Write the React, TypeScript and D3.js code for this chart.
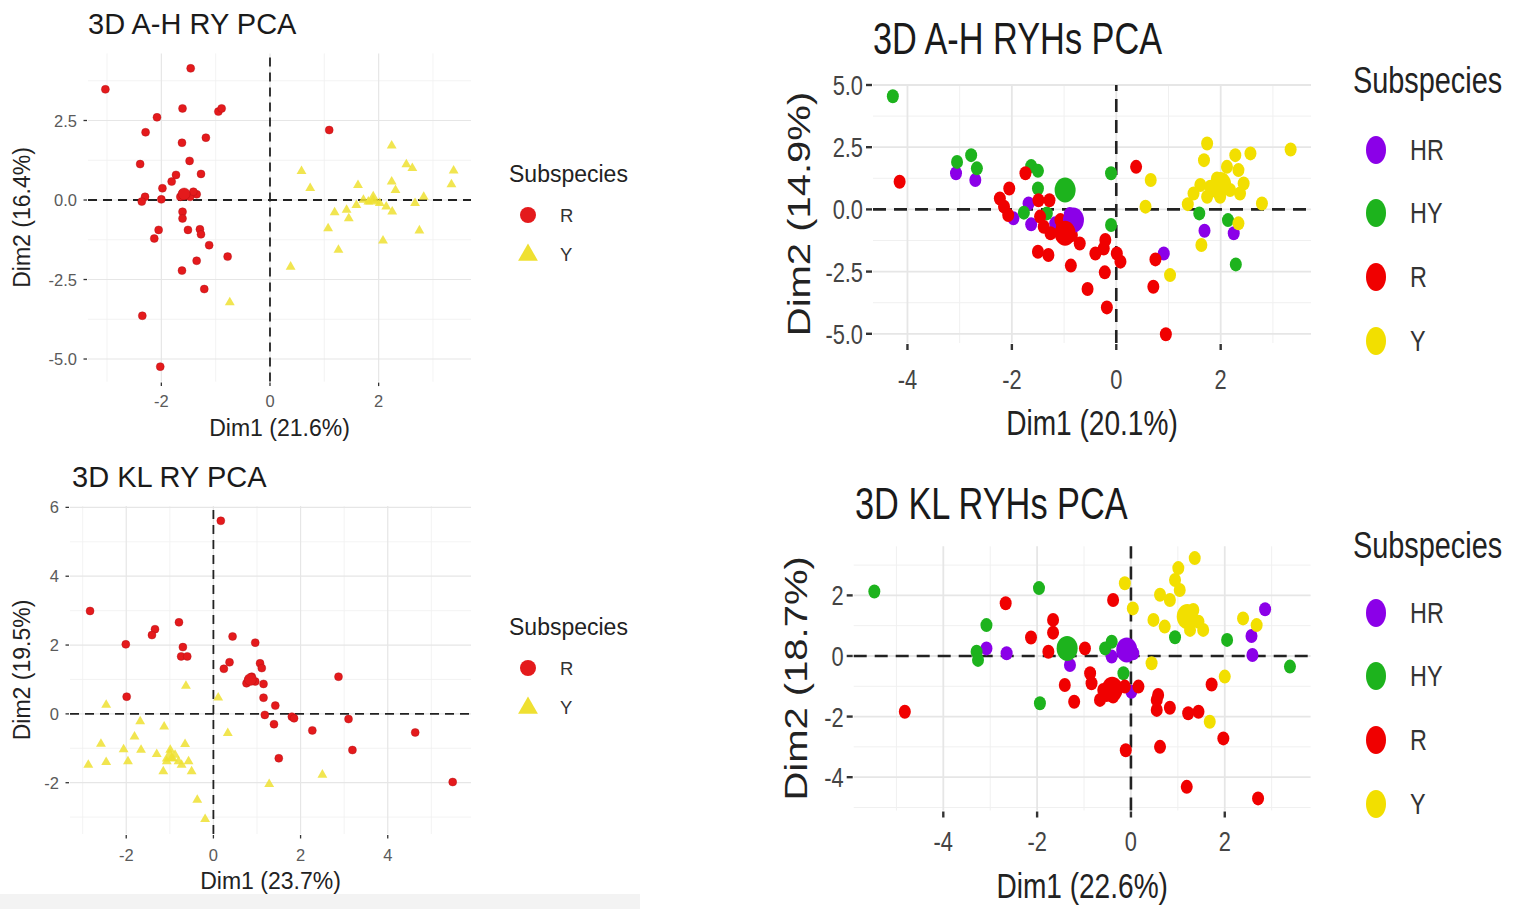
import React from 'react';
import * as d3 from 'd3';

type Pt = [number, number];

// ---- 3D A-H RY PCA ----
const AH_RY_R: Pt[] = [
  [-3.03, 3.48], [-1.46, 4.14], [-2.08, 2.6], [-2.29, 2.13], [-1.61, 2.88], [-0.95, 2.78],
  [-0.89, 2.88], [-1.18, 1.96], [-1.62, 1.8], [-2.39, 1.13], [-1.48, 1.23], [-1.27, 0.82],
  [-1.73, 0.79], [-1.81, 0.58], [-1.98, 0.37], [-2.3, 0.1], [-2.36, -0.05], [-2.0, 0.02],
  [-1.61, 0.21], [-1.53, 0.16], [-1.35, 0.18], [-1.65, 0.1], [-1.47, 0.1], [-1.61, -0.37],
  [-1.61, -0.58], [-2.05, -0.94], [-2.13, -1.21], [-1.51, -0.94], [-1.29, -0.92], [-1.27, -1.08],
  [-1.12, -1.42], [-0.78, -1.78], [-1.35, -1.91], [-1.62, -2.22], [-1.21, -2.8], [-2.35, -3.64],
  [-2.02, -5.24], [1.09, 2.2], [-1.41, 0.26],
];
const AH_RY_Y: Pt[] = [
  [0.58, 0.91], [0.74, 0.37], [2.24, 1.71], [2.51, 1.12], [2.62, 1.0], [3.38, 0.92],
  [3.34, 0.49], [1.62, 0.47], [2.24, 0.58], [2.31, 0.31], [1.19, -0.39], [1.45, -0.58],
  [1.59, -0.16], [1.81, -0.05], [1.9, 0.0], [2.02, -0.1], [2.25, -0.37], [2.67, -0.1],
  [2.83, 0.1], [1.07, -0.89], [2.75, -0.96], [2.08, -1.28], [1.26, -1.57], [0.38, -2.1],
  [-0.74, -3.22], [1.72, 0.0], [2.14, -0.21], [1.41, -0.31],
];
const AH_RY_MEAN_R: Pt = [-1.58, 0.19];
const AH_RY_MEAN_Y: Pt = [1.9, 0.0];

// ---- 3D KL RY PCA ----
const KL_RY_R: Pt[] = [
  [0.17, 5.61], [-2.83, 2.99], [-2.01, 2.02], [-1.34, 2.46], [-1.41, 2.29], [-0.79, 2.66],
  [-0.7, 1.94], [-0.74, 1.67], [-0.6, 1.67], [-1.99, 0.5], [0.44, 2.25], [0.96, 2.07],
  [0.37, 1.5], [0.24, 1.31], [1.07, 1.47], [1.11, 1.33], [0.8, 0.99], [0.88, 1.08],
  [0.96, 0.94], [1.15, 0.87], [2.87, 1.08], [1.15, 0.47], [1.42, 0.24], [1.18, -0.03],
  [1.39, -0.3], [1.8, -0.08], [1.85, -0.13], [2.27, -0.48], [3.1, -0.15], [3.19, -1.05],
  [1.5, -1.29], [4.63, -0.54], [5.49, -1.98], [0.76, 0.89],
];
const KL_RY_Y: Pt[] = [
  [-0.63, 0.81], [-2.46, 0.26], [0.11, 0.47], [-1.68, -0.22], [-1.13, -0.37], [0.33, -0.56],
  [-2.58, -0.87], [-1.81, -0.66], [-2.06, -1.03], [-1.66, -1.05], [-2.87, -1.48], [-2.46, -1.4],
  [-1.96, -1.38], [-1.3, -1.17], [-0.99, -1.05], [-0.96, -1.29], [-1.07, -1.38], [-0.8, -1.38],
  [-0.65, -0.88], [-0.57, -1.38], [-1.15, -1.67], [-0.5, -1.67], [-0.37, -2.5], [-0.19, -3.06],
  [1.28, -2.04], [2.5, -1.77], [-0.88, -1.19], [-0.73, -1.48],
];
const KL_RY_MEAN_R: Pt = [0.85, 1.0];
const KL_RY_MEAN_Y: Pt = [-1.0, -1.25];

// ---- 3D A-H RYHs PCA ----
const AH_RYHS_HR: Pt[] = [
  [-3.07, 1.45], [-2.7, 1.18], [-1.68, 0.24], [-1.97, -0.36], [-1.63, -0.6], [-1.17, -0.56],
  [-0.89, -0.19], [1.69, -0.86], [2.25, -0.96], [0.91, -1.77],
];
const AH_RYHS_HY: Pt[] = [
  [-4.28, 4.55], [-3.05, 1.91], [-2.78, 2.18], [-2.67, 1.65], [-1.63, 1.74], [-1.5, 1.55],
  [-1.5, 0.84], [-1.77, -0.13], [-1.33, -0.16], [-0.1, 1.45], [-0.1, -0.63], [1.59, -0.16],
  [2.14, -0.43], [2.29, -2.21],
];
const AH_RYHS_R: Pt[] = [
  [-4.15, 1.11], [-1.74, 1.45], [-2.05, 0.84], [-2.23, 0.44], [-2.15, 0.11], [-2.07, -0.23],
  [-1.49, 0.37], [-1.28, 0.37], [-1.46, -0.29], [-1.39, -0.7], [-1.26, -0.96], [-1.04, -0.7],
  [-0.85, -1.03], [-0.7, -1.37], [-1.5, -1.7], [-1.3, -1.83], [-0.87, -2.26], [-0.55, -3.2],
  [-0.4, -1.77], [-0.24, -1.57], [-0.21, -1.23], [-0.22, -2.53], [-0.18, -3.94], [0.01, -1.77],
  [0.08, -2.1], [0.38, 1.71], [0.75, -2.01], [0.71, -3.11], [0.95, -5.02], [-1.07, -0.43],
];
const AH_RYHS_Y: Pt[] = [
  [0.66, 1.18], [0.56, 0.11], [1.37, 0.21], [1.74, 2.65], [1.68, 1.98], [1.61, 0.98],
  [1.8, 0.91], [1.93, 1.24], [2.05, 0.98], [2.12, 1.71], [2.28, 2.18], [2.34, 1.58],
  [2.44, 1.04], [2.57, 2.25], [2.18, 0.78], [1.93, 0.71], [2.79, 0.24], [3.34, 2.41],
  [1.63, -1.43], [1.03, -2.64], [2.34, -0.56], [1.74, 0.51], [2.37, 0.64], [1.48, 0.64],
  [1.99, 0.51],
];
const AH_RYHS_MEAN_HR: Pt = [-0.82, -0.43];
const AH_RYHS_MEAN_HY: Pt = [-0.98, 0.78];
const AH_RYHS_MEAN_R: Pt = [-0.98, -0.96];
const AH_RYHS_MEAN_Y: Pt = [2.0, 1.0];

// ---- 3D KL RYHs PCA ----
const KL_RYHS_HR: Pt[] = [
  [-3.08, 0.25], [-2.65, 0.09], [-1.3, -0.3], [-0.41, -0.02], [0.01, -1.18], [2.86, 1.54],
  [2.57, 0.66], [2.59, 0.03], [0.05, 0.09],
];
const KL_RYHS_HY: Pt[] = [
  [-5.47, 2.13], [-1.96, 2.24], [-3.08, 1.02], [-3.29, 0.14], [-3.26, -0.13], [-0.55, 0.25],
  [-0.16, -0.57], [-1.94, -1.56], [0.94, 0.62], [2.05, 0.53], [3.39, -0.35], [-0.41, 0.47],
];
const KL_RYHS_R: Pt[] = [
  [-4.82, -1.84], [-2.67, 1.74], [-1.66, 1.19], [-1.66, 0.77], [-2.13, 0.61], [-1.76, 0.14],
  [-0.98, 0.25], [-0.38, 1.85], [-0.87, -0.57], [-0.84, -0.9], [-1.41, -0.96], [-1.21, -1.51],
  [-0.66, -1.45], [-0.52, -1.29], [-0.41, -1.12], [-0.31, -1.01], [-0.38, -1.34], [-0.13, -1.01],
  [0.16, -1.01], [0.58, -1.29], [0.55, -1.78], [0.83, -1.71], [1.22, -1.89], [1.44, -1.84],
  [1.72, -0.94], [1.97, -2.72], [0.62, -3.0], [-0.11, -3.11], [1.19, -4.32], [2.71, -4.7],
  [-0.59, -1.12], [0.55, -1.45],
];
const KL_RYHS_Y: Pt[] = [
  [-0.13, 2.4], [0.04, 1.57], [1.36, 3.23], [1.01, 2.9], [0.94, 2.51], [0.62, 2.02],
  [0.83, 1.85], [0.48, 1.19], [0.72, 0.97], [1.12, 1.3], [1.33, 1.52], [1.44, 1.13],
  [1.54, 0.86], [1.26, 0.86], [2.39, 1.24], [2.68, 1.02], [0.44, -0.24], [2.0, -0.68],
  [1.68, -2.17], [1.04, 2.18],
];
const KL_RYHS_MEAN_HR: Pt = [-0.09, 0.2];
const KL_RYHS_MEAN_HY: Pt = [-1.36, 0.25];
const KL_RYHS_MEAN_R: Pt = [-0.4, -1.1];
const KL_RYHS_MEAN_Y: Pt = [1.2, 1.3];

const LEFT_RED = '#e41a1c';
const LEFT_YELLOW = '#efe031';
const COL_HR = '#8b00e8';
const COL_HY = '#1db31d';
const COL_R = '#f00000';
const COL_Y = '#f2df00';

type Group = { key: string; color: string; shape: 'circle' | 'triangle'; points: Pt[]; mean: Pt };

type PanelCfg = {
  title: string;
  xLabel: string;
  yLabel: string;
  xDomain: [number, number];
  yDomain: [number, number];
  xRange: [number, number];
  yRange: [number, number];
  xTicks: number[];
  yTicks: number[];
  yFmt: (v: number) => string;
  groups: Group[];
  big: boolean;
  titlePos: [number, number];
  xLabelY: number;
  yLabelX: number;
  xTickY: number;
  legendX: number;
  legendTitleY: number;
  legendYs: number[];
};

const FONT = '"Liberation Sans", Arial, Helvetica, sans-serif';

const fmt1 = (v: number) => v.toFixed(1);
const fmt0 = (v: number) => String(v);

const PANELS: PanelCfg[] = [
  {
    title: '3D A-H RY PCA', xLabel: 'Dim1 (21.6%)', yLabel: 'Dim2 (16.4%)',
    xDomain: [-3.35, 3.7], yDomain: [-5.71, 4.61], xRange: [88, 471], yRange: [381.6, 53.4],
    xTicks: [-2, 0, 2], yTicks: [-5, -2.5, 0, 2.5], yFmt: fmt1,
    groups: [
      { key: 'R', color: LEFT_RED, shape: 'circle', points: AH_RY_R, mean: AH_RY_MEAN_R },
      { key: 'Y', color: LEFT_YELLOW, shape: 'triangle', points: AH_RY_Y, mean: AH_RY_MEAN_Y },
    ],
    big: false, titlePos: [88, 24], xLabelY: 428, yLabelX: 22, xTickY: 401,
    legendX: 509, legendTitleY: 174, legendYs: [215, 254],
  },
  {
    title: '3D KL RY PCA', xLabel: 'Dim1 (23.7%)', yLabel: 'Dim2 (19.5%)',
    xDomain: [-3.29, 5.91], yDomain: [-3.49, 6.04], xRange: [70, 471], yRange: [834, 506],
    xTicks: [-2, 0, 2, 4], yTicks: [-2, 0, 2, 4, 6], yFmt: fmt0,
    groups: [
      { key: 'R', color: LEFT_RED, shape: 'circle', points: KL_RY_R, mean: KL_RY_MEAN_R },
      { key: 'Y', color: LEFT_YELLOW, shape: 'triangle', points: KL_RY_Y, mean: KL_RY_MEAN_Y },
    ],
    big: false, titlePos: [72, 477], xLabelY: 881, yLabelX: 22, xTickY: 855,
    legendX: 509, legendTitleY: 627, legendYs: [668, 707],
  },
  {
    title: '3D A-H RYHs PCA', xLabel: 'Dim1 (20.1%)', yLabel: 'Dim2 (14.9%)',
    xDomain: [-4.66, 3.73], yDomain: [-5.37, 5.0], xRange: [873, 1311], yRange: [343, 85],
    xTicks: [-4, -2, 0, 2], yTicks: [-5, -2.5, 0, 2.5, 5], yFmt: fmt1,
    groups: [
      { key: 'HR', color: COL_HR, shape: 'circle', points: AH_RYHS_HR, mean: AH_RYHS_MEAN_HR },
      { key: 'HY', color: COL_HY, shape: 'circle', points: AH_RYHS_HY, mean: AH_RYHS_MEAN_HY },
      { key: 'R', color: COL_R, shape: 'circle', points: AH_RYHS_R, mean: AH_RYHS_MEAN_R },
      { key: 'Y', color: COL_Y, shape: 'circle', points: AH_RYHS_Y, mean: AH_RYHS_MEAN_Y },
    ],
    big: true, titlePos: [873, 38], xLabelY: 423, yLabelX: 800, xTickY: 379,
    legendX: 1353, legendTitleY: 80, legendYs: [150, 213, 277, 341],
  },
  {
    title: '3D KL RYHs PCA', xLabel: 'Dim1 (22.6%)', yLabel: 'Dim2 (18.7%)',
    xDomain: [-5.91, 3.83], yDomain: [-5.1, 3.62], xRange: [853.7, 1310.6], yRange: [810.5, 546.3],
    xTicks: [-4, -2, 0, 2], yTicks: [-4, -2, 0, 2], yFmt: fmt0,
    groups: [
      { key: 'HR', color: COL_HR, shape: 'circle', points: KL_RYHS_HR, mean: KL_RYHS_MEAN_HR },
      { key: 'HY', color: COL_HY, shape: 'circle', points: KL_RYHS_HY, mean: KL_RYHS_MEAN_HY },
      { key: 'R', color: COL_R, shape: 'circle', points: KL_RYHS_R, mean: KL_RYHS_MEAN_R },
      { key: 'Y', color: COL_Y, shape: 'circle', points: KL_RYHS_Y, mean: KL_RYHS_MEAN_Y },
    ],
    big: true, titlePos: [855, 503], xLabelY: 886, yLabelX: 797, xTickY: 841,
    legendX: 1353, legendTitleY: 545, legendYs: [613, 676, 740, 804],
  },
];

function minorBreaks(ticks: number[], domain: [number, number]) {
  const step = ticks[1] - ticks[0];
  const out: number[] = [];
  for (let k = Math.floor(domain[0] / step) - 1; k <= Math.ceil(domain[1] / step); k++) {
    const v = k * step + step / 2;
    if (v > domain[0] && v < domain[1]) out.push(v);
  }
  return out;
}

function Label(props: {
  x: number; y: number; sx: number; size: number; fill: string;
  anchor?: 'start' | 'middle' | 'end'; rotate?: boolean; children: React.ReactNode;
}) {
  const { x, y, sx, size, fill, anchor = 'start', rotate, children } = props;
  return (
    <text
      transform={`translate(${x},${y}) scale(${sx},1)${rotate ? ' rotate(-90)' : ''}`}
      fontSize={size}
      fill={fill}
      textAnchor={anchor}
      dominantBaseline="central"
      fontFamily={FONT}
    >
      {children}
    </text>
  );
}

function Panel({ cfg }: { cfg: PanelCfg }) {
  const x = d3.scaleLinear().domain(cfg.xDomain).range(cfg.xRange);
  const y = d3.scaleLinear().domain(cfg.yDomain).range(cfg.yRange);
  const [xl, xr] = cfg.xRange;
  const [yb, yt] = cfg.yRange;
  const big = cfg.big;
  const sx = big ? 0.78 : 1;
  const st = big
    ? { title: 44, tick: 28, xlab: 36, ylab: 40, legT: 37, legL: 30, tickCol: '#444', dashW: 2.6, dash: '13,8', tickLen: 6, tickW: 2.4, tickGap: 10 }
    : { title: 29, tick: 16.5, xlab: 23, ylab: 23, legT: 23, legL: 18.5, tickCol: '#5a5a5a', dashW: 1.8, dash: '9,6', tickLen: 3.5, tickW: 1.3, tickGap: 11 };

  const xMinor = minorBreaks(cfg.xTicks, cfg.xDomain);
  const yMinor = minorBreaks(cfg.yTicks, cfg.yDomain);
  const tri = (size: number) => d3.symbol(d3.symbolTriangle, size)() || '';

  const drawPoint = (g: Group, p: Pt, i: number, isMean: boolean) => {
    const cx = x(p[0]);
    const cy = y(p[1]);
    if (g.shape === 'triangle') {
      return (
        <path key={`${g.key}-${isMean ? 'm' : i}`} d={tri(isMean ? 110 : 42)}
          transform={`translate(${cx},${cy})`} fill={g.color} fillOpacity={0.85} />
      );
    }
    if (big) {
      return (
        <ellipse key={`${g.key}-${isMean ? 'm' : i}`} cx={cx} cy={cy}
          rx={isMean ? 10.5 : 6} ry={isMean ? 12.5 : 7} fill={g.color} />
      );
    }
    return (
      <circle key={`${g.key}-${isMean ? 'm' : i}`} cx={cx} cy={cy} r={isMean ? 6 : 4}
        fill={g.color} stroke="#b01015" strokeOpacity={0.5} strokeWidth={0.8} />
    );
  };

  return (
    <g>
      {/* grid */}
      {xMinor.map((v) => (
        <line key={`xm${v}`} x1={x(v)} x2={x(v)} y1={yb} y2={yt} stroke="#f0f0f0" strokeWidth={big ? 1 : 0.8} />
      ))}
      {yMinor.map((v) => (
        <line key={`ym${v}`} x1={xl} x2={xr} y1={y(v)} y2={y(v)} stroke="#f0f0f0" strokeWidth={big ? 1 : 0.8} />
      ))}
      {cfg.xTicks.map((v) => (
        <line key={`xM${v}`} x1={x(v)} x2={x(v)} y1={yb} y2={yt} stroke="#e6e6e6" strokeWidth={big ? 1.8 : 1.2} />
      ))}
      {cfg.yTicks.map((v) => (
        <line key={`yM${v}`} x1={xl} x2={xr} y1={y(v)} y2={y(v)} stroke="#e6e6e6" strokeWidth={big ? 1.8 : 1.2} />
      ))}

      {/* reference lines */}
      <line x1={xl} x2={xr} y1={y(0)} y2={y(0)} stroke="#222" strokeWidth={st.dashW} strokeDasharray={st.dash} />
      <line x1={x(0)} x2={x(0)} y1={yb} y2={yt} stroke="#222" strokeWidth={st.dashW} strokeDasharray={st.dash} />

      {/* points */}
      {cfg.groups.map((g) => (
        <g key={g.key}>{g.points.map((p, i) => drawPoint(g, p, i, false))}</g>
      ))}
      {cfg.groups.map((g) => drawPoint(g, g.mean, 0, true))}

      {/* axes ticks and labels */}
      {cfg.xTicks.map((v) => (
        <g key={`xt${v}`}>
          <line x1={x(v)} x2={x(v)} y1={yb + 1} y2={yb + 1 + st.tickLen} stroke="#333" strokeWidth={st.tickW} />
          <Label x={x(v)} y={cfg.xTickY} sx={sx} size={st.tick} fill={st.tickCol} anchor="middle">
            {v < 0 ? `-${Math.abs(v)}` : String(v)}
          </Label>
        </g>
      ))}
      {cfg.yTicks.map((v) => (
        <g key={`yt${v}`}>
          <line x1={xl - 1 - st.tickLen} x2={xl - 1} y1={y(v)} y2={y(v)} stroke="#333" strokeWidth={st.tickW} />
          <Label x={xl - st.tickGap} y={y(v)} sx={sx} size={st.tick} fill={st.tickCol} anchor="end">
            {cfg.yFmt(v)}
          </Label>
        </g>
      ))}

      <Label x={cfg.titlePos[0]} y={cfg.titlePos[1]} sx={sx} size={st.title} fill="#1a1a1a">
        {cfg.title}
      </Label>
      <Label x={(xl + xr) / 2} y={cfg.xLabelY} sx={sx} size={st.xlab} fill="#222" anchor="middle">
        {cfg.xLabel}
      </Label>
      <Label x={cfg.yLabelX} y={(yb + yt) / 2} sx={sx} size={st.ylab} fill="#222" anchor="middle" rotate>
        {cfg.yLabel}
      </Label>

      {/* legend */}
      <Label x={cfg.legendX} y={cfg.legendTitleY} sx={sx} size={st.legT} fill="#222">
        Subspecies
      </Label>
      {cfg.groups.map((g, i) => {
        const ly = cfg.legendYs[i];
        const kx = cfg.legendX + (big ? 23 : 19);
        return (
          <g key={`lg${g.key}`}>
            {g.shape === 'triangle' ? (
              <path d={tri(170)} transform={`translate(${kx},${ly + 1})`} fill={g.color} />
            ) : big ? (
              <ellipse cx={kx} cy={ly} rx={10} ry={14} fill={g.color} />
            ) : (
              <circle cx={kx} cy={ly} r={8} fill={g.color} />
            )}
            <Label x={cfg.legendX + (big ? 57 : 51)} y={ly} sx={sx} size={st.legL} fill="#333">
              {g.key}
            </Label>
          </g>
        );
      })}
    </g>
  );
}

export default function App() {
  return (
    <div style={{ position: 'absolute', left: 0, top: 0, background: '#fff' }}>
      <svg width={1518} height={909} style={{ display: 'block' }}>
        <rect x={0} y={0} width={1518} height={909} fill="#ffffff" />
        <rect x={0} y={894} width={640} height={15} fill="#f3f3f3" />
        {PANELS.map((p) => (
          <Panel key={p.title} cfg={p} />
        ))}
      </svg>
    </div>
  );
}
